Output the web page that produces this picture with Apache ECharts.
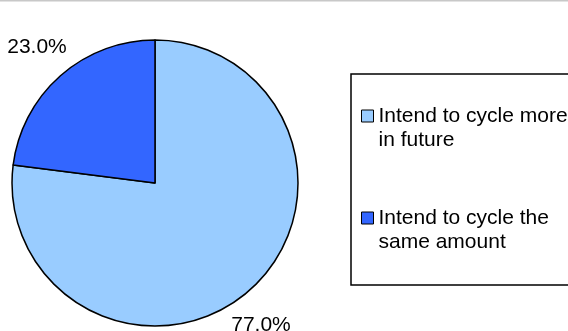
<!DOCTYPE html>
<html>
<head>
<meta charset="utf-8">
<script src="https://cdn.jsdelivr.net/npm/echarts@6/dist/echarts.min.js"></script>
<style>
html,body{margin:0;padding:0;background:#fff;}
#chart{width:568px;height:331px;}
</style>
</head>
<body>
<div id="chart"></div>
<script>
const categories = ['Intend to cycle more\nin future', 'Intend to cycle the\nsame amount'];
const values = [77.0, 23.0];
const colors = ['#99CCFF', '#3366FF'];
const labelShift = [[-20, 5], [8, 1]];

const chart = echarts.init(document.getElementById('chart'), null, {renderer: 'canvas'});
const FONT = 'Liberation Sans, Arial, sans-serif';
const FS = 21;

chart.setOption({
  animation: false,
  backgroundColor: '#fff',
  graphic: [{
    type: 'line', shape: {x1: 0, y1: 0.75, x2: 568, y2: 0.75},
    style: {stroke: '#c8c8c8', lineWidth: 1.5}
  }],
  legend: {
    orient: 'vertical',
    left: 351, top: 74,
    padding: [6, 10, 31, 10],
    itemGap: 30,
    itemWidth: 12, itemHeight: 12,
    icon: 'rect',
    borderColor: '#000', borderWidth: 1.5,
    selectedMode: false,
    itemStyle: {borderColor: '#000', borderWidth: 1},
    formatter: name => '\n' + name,
    textStyle: {fontFamily: FONT, fontSize: FS, color: '#000', lineHeight: 24},
    data: categories
  },
  series: [{
    type: 'pie',
    center: [155, 183],
    radius: 143,
    startAngle: 90,
    clockwise: true,
    avoidLabelOverlap: false,
    data: categories.map((c, i) => ({name: c, value: values[i], itemStyle: {color: colors[i]}})),
    itemStyle: {borderColor: '#000', borderWidth: 1.5},
    emphasis: {disabled: true},
    label: {
      show: true, position: 'outside',
      formatter: p => p.value.toFixed(1) + '%',
      fontFamily: FONT, fontSize: FS, color: '#000'
    },
    labelLine: {show: false, length: 40, length2: 0},
    labelLayout: p => ({align: 'center', verticalAlign: 'middle', dx: labelShift[p.dataIndex][0], dy: labelShift[p.dataIndex][1]})
  }]
});
</script>
</body>
</html>
